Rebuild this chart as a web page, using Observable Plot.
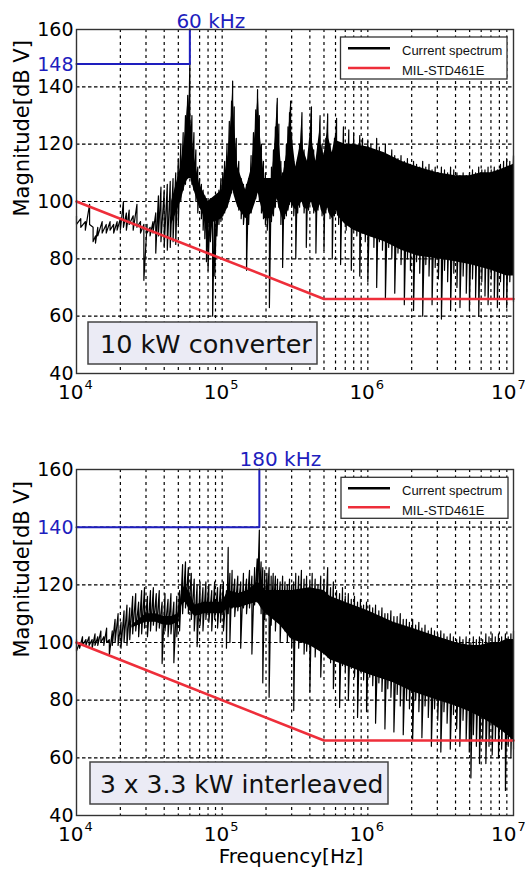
<!DOCTYPE html>
<html><head><meta charset="utf-8">
<script src="https://cdn.jsdelivr.net/npm/d3@7"></script>
<script src="https://cdn.jsdelivr.net/npm/@observablehq/plot@0.6"></script>
<style>
html,body{margin:0;padding:0;background:#fff}
body{width:525px;height:872px;position:relative;overflow:hidden;font-family:"DejaVu Sans",sans-serif}
.panel{position:absolute;left:0}
#deco{position:absolute;left:0;top:0;pointer-events:none}
</style></head><body>
<div id="p1" class="panel" style="top:0px"></div>
<div id="p2" class="panel" style="top:440px"></div>
<svg id="deco" width="525" height="872"></svg>
<script>
// ---------- data (frequencies in kHz, magnitudes in dB) ----------
const xTicks = [1e4, 1e5, 1e6];
const xTickLast = [1e7];
const xExp = ["4", "5", "6"];
const xExpLast = ["7"];
const yTicks1 = [40, 60, 80, 100, 120, 140, 160];
const yTicks2 = [40, 60, 80, 100, 120, 160];
const seriesNames = ["Current spectrum", "MIL-STD461E"];
const panelLabels = ["10 kW converter", "3 x 3.3 kW interleaved"];

// MIL-STD limit line
const limF = [10, 500, 10000];
const limV = [100, 66, 66];

// annotation (blue) lines
const blue1F = [10, 60, 60];
const blue1V = [148, 148, 160];
const blue2F = [10, 180, 180];
const blue2V = [140, 140, 160];
const blue1Label = [60];
const blue2Label = [180];
const blue1Tick = [148];
const blue2Tick = [140];

// Panel 1 spectrum: sample freq, local max, local min
const spec1F = [10,10.7,11.5,12.3,13,13.5,14,15,16,17,
 18,19,20,21,22,23,24.5,26,27.5,29,
 30.5,32,33.5,35,36.5,38,40,42,44,46,
 48,50,52,54,56,58,60,62,64,66,
 68,70,72,74,76,78,80,83,86,89,
 92,95,98,101,104,108,112,116,118,121,
 125,130,135,140,147,152,158,164,170,175,
 180,186,192,198,204,211,218,225,232,239,
 245,253,260,268,276,283,290,295,300,310,
 320,330,340,353,365,378,392,410,425,440,
 455,470,485,500,515,530,550,570,590,610,
 630,650,680,710,740,770,800,840,880,920,
 960,1000,1050,1100,1150,1200,1260,1320,1390,1460,
 1530,1610,1690,1780,1870,1960,2060,2160,2270,2380,
 2500,2630,2760,2900,3050,3200,3360,3530,3700,3890,
 4090,4290,4510,4740,4980,5230,5490,5770,6060,6370,
 6690,7030,7380,7750,8140,8550,8980,9430,10000];
const spec1Top = [95,94,93,99,91,88,91,93,92,93,
 92,93,94,100,96,97,95,99,93,92,
 92,91,93,96,102,105,104,106,107,108,
 110,115,120,124,130,137,148,130,124,118,
 112,108,106,104,102,101,100,101,98,100,
 102,104,108,110,114,120,128,135,142,133,
 122,114,108,106,106,108,116,124,132,139,
 130,120,114,110,108,106,112,118,126,136,
 127,114,110,114,120,126,131,135,124,114,
 108,114,120,131,118,110,118,133,118,110,
 120,130,120,112,122,130.6,120,113,122,129,
 118,112,126,120,125,118,124,119,123,122,
 118,121,120,117,122,119,117,120,116,118,
 116,115,116,114,115,113,114,113,112,114,
 112,113,111,112,110,112,111,110,112,111,
 110,109,110,109,110,111,110,112,111,111,
 112,111,112,111,113,114,115,114,116];
const spec1Bot = [92,91,90,92,86,85.5,88,89,89,90,
 89,90,90,91,90,92,90,91,89,72.5,
 89,88,89,82,88,86,84,83,84,86,
 85,92,100,104,106,108,110,106,104,100,
 96,98,94,90,87,79,76,86,60,74,
 88,92,93,95,96,98,101,103,105,103,
 100,97,94,92,76,92,96,99,101,104,
 100,96,94,92,90,63,93,95,98,102,
 98,92,77,94,95,97,99,100,98,95,
 80,96,98,100,96,84,97,100,96,82,
 97,99,95,83,96,98,94,80,95,97,
 92,78,94,90,92,76,90,88,74,89,
 86,72,88,84,70,86,83,66,84,80,
 68,82,78,64,80,76,62,79,75,60,
 78,74,64,77,73,59,76,72,62,75,
 70,63,74,68,62,73,66,60,72,67,
 64,73,66,63,72,66,63,72,65];
// Panel 1 dense band
const core1F = [45,52,56,58.5,61,64,70,80,100,110,
 116,118.5,121,128,145,160,170,177,182,195,
 220,232,239,245,260,280,290,295,300,320,
 345,353,362,385,405,410,418,440,465,470,
 478,500,525,530,540,570,605,610,620,700,
 800,1000,1300,1700,2200,3000,4000,5000,6000,7000,
 8000,9000,10000];
const core1Hi = [100,112,124,137,128,116,106,100,104,116,
 130,141,128,112,104,112,126,138,124,108,
 108,122,135,122,108,118,128,134,124,112,
 120,130,118,114,126,132,120,114,124,129,
 120,116,124,130,122,117,124,128,121,120,
 120,119,117,114,112,110,109,109,110,110,
 111,112,113];
const core1Lo = [92,100,106,108,108,104,98,92,94,98,
 102,104,102,98,94,96,100,103,100,94,
 94,98,101,98,94,96,98,100,99,97,
 99,100,98,97,99,100,98,96,98,99,
 97,95,97,98,96,94,96,97,95,92,
 90,88,86,83,81,80,79,78,77,76,
 75,74,74];

// Panel 2 spectrum
const spec2F = [10,10.5,11,11.6,12.2,12.8,13.4,14,14.7,15.4,
 16.1,16.8,17.6,18.4,19.3,20.2,21.2,22.2,23.2,24.3,
 25.5,26.7,28,29.3,30.7,32.2,33.7,35.3,37,38.7,
 40.5,42.5,44.5,46.6,48.8,51,53.5,56,58.6,61.4,
 64.3,67.3,70.5,73.8,77.3,81,84.8,88.8,93,97.4,
 102,107,110,113,117,122,128,134,140,147,
 154,160,167,174,180,185,190,196,203,210,
 217,224,232,240,250,260,270,280,290,300,
 310,320,335,350,365,380,400,415,435,455,
 475,500,530,555,580,610,640,670,700,735,
 770,810,850,890,935,980,1030,1080,1130,1190,
 1250,1310,1370,1440,1510,1590,1670,1750,1840,1930,
 2030,2130,2240,2350,2470,2600,2730,2870,3020,3170,
 3330,3500,3680,3870,4070,4280,4500,4730,4970,5100,
 5300,5560,5840,6140,6460,6790,7140,7500,7890,8290,
 8800,9200,9600,10000];
const spec2Top = [101,100,102,101,102,101,103,102,104,102,
 105,101,104,108,110,107,111,113,112,116,
 117,114,118,119,116,118,119,117,118,114,
 117,115,117,114,116,118,127,128,126,124,
 122,120,121,119,121,120,118,121,119,120,
 121,118,133,124,125,122,123,121,124,122,
 125,123,126,129,139,128,126,125,124,126,
 123,124,123,122,121,123,121,120,122,120,
 121,124,123,125,122,123,121,124,122,120,
 123,122,126,119,121,118,117,119,116,117,
 115,116,114,115,113,114,113,112,113,111,
 112,110,110,111,109,109,110,108,108,107,
 108,106,107,105,106,104,105,104,103,104,
 103,102,103,102,101,102,101,102,101,100,
 102,101,102,101,103,102,103,102,103,102,
 103,102,103,104];
const spec2Bot = [97,98,99,99,99,98,99,99,100,99,
 100,95.5,99,100,99,98,100,99,101,103,
 104,102,103,105,102,104,106,104,105,92.7,
 104,102,103,93,102,104,110,112,110,108,
 104,98.6,106,104,108,107,104,108,105,107,
 104,98,110,100,112,109,111,98,112,110,
 112,96,113,114,115,110,86,108,112,81,
 106,110,104,108,100,106,104,100,102,98,
 76.4,101,98,100,96,97,83,99,95,98,
 88,96,95,93,84,96,77.5,92,90,80,
 91,88,74,90,87,76,88,85,72,86,
 83,70,84,81,69,82,78,68,80,77,
 66,80,76,67,78,74,64,77,73,62,
 76,72,63,75,70,64,73,66,62,53,
 68,64,58,66,58,64,61,66,60,63,
 48.7,64,60,63];
const core2F = [24,30,35,40,45,50,53,56,
 60,65,75,90,100,110,130,150,175,185,
 200,250,300,400,500,550,700,1000,1500,2000,
 3000,4000,5000,6000,7000,8000,9000,10000];
const core2Hi = [106,110,110,109,109,110,118,120,
 117,113,114,114,114,118,117,118,121,120,
 118,118,118,119,118,116,114,111,107,105,
 102,100,99,99,100,100,101,101];
const core2Lo = [105,107,107,106,106,107,113,114,
 111,109,110,110,110,112,112,113,114,112,
 110,106,101,99,96,94,92,89,86,83,
 80,78,76,74,72,70,68,66];

// ---------- styling ----------
const RED = "#ee2e3a";
const BLUE = "#1e1ebe";
const FONT = "DejaVu Sans";

const gridXs = [];
for (const d of [1e4, 1e5, 1e6]) for (let m = 1; m < 10; m++) if (d * m > 1e4) gridXs.push(d * m);
const gridYs = [60, 80, 100, 120, 140];

function makePanel(o) {
  const zig = [];
  o.f.forEach((f, i) => { zig.push({f: f * 1000, v: o.top[i]}); zig.push({f: f * 1000, v: o.bot[i]}); });
  const core = o.cf.map((f, i) => ({f: f * 1000, hi: o.chi[i], lo: o.clo[i]}));
  const lim = limF.map((f, i) => ({f: f * 1000, v: limV[i]}));
  const bl = o.bf.map((f, i) => ({f: f * 1000, v: o.bv[i]}));
  const marks = [
    Plot.gridX(gridXs, {stroke: "#000", strokeOpacity: 1, strokeWidth: 1.2, strokeDasharray: "3,3.5"}),
    Plot.gridY(gridYs, {stroke: "#000", strokeOpacity: 1, strokeWidth: 1.2, strokeDasharray: "3.5,2.5"}),
    Plot.areaY(core, {x: "f", y1: "lo", y2: "hi", fill: "#000"}),
    Plot.line(zig, {x: "f", y: "v", stroke: "#000", strokeWidth: 1.2}),
    Plot.line(lim, {x: "f", y: "v", stroke: RED, strokeWidth: 2.6}),
    Plot.line(bl, {x: "f", y: "v", stroke: BLUE, strokeWidth: 2}),
    Plot.frame({stroke: "#333", strokeWidth: 1.4}),
    Plot.axisY(o.yt, {tickSize: 0, tickPadding: 3, fontSize: 19, dy: 0, label: null}),
    Plot.text(xTicks, {x: d => d, text: () => "10", frameAnchor: "bottom", lineAnchor: "bottom", dy: 25, dx: 7, textAnchor: "end", fontSize: 20}),
    Plot.text(xTicks, {x: d => d, text: (d, i) => xExp[i], frameAnchor: "bottom", lineAnchor: "bottom", dy: 15, dx: 8, textAnchor: "start", fontSize: 13}),
    Plot.text(xTickLast, {x: d => d, text: () => "10", frameAnchor: "bottom", lineAnchor: "bottom", dy: 25, dx: 3, textAnchor: "end", fontSize: 20}),
    Plot.text(xTickLast, {x: d => d, text: (d, i) => xExpLast[i], frameAnchor: "bottom", lineAnchor: "bottom", dy: 15, dx: 4, textAnchor: "start", fontSize: 13}),
    Plot.text(["Magnitude[dB V]"], {frameAnchor: "left", rotate: -90, dx: -54, dy: 15, fontSize: 21, lineAnchor: "middle"}),
    Plot.text(o.btick, {frameAnchor: "left", y: d => d, text: d => String(d), textAnchor: "end", dx: -3, dy: 1, fill: BLUE, fontSize: 19}),
    Plot.text(o.blabel, {x: d => d * 1000, text: d => d + " kHz", frameAnchor: "top", lineAnchor: "bottom", dy: o.labelDy, dx: 21, fill: BLUE, fontSize: 20})
  ];
  if (o.xlabel) marks.push(Plot.text([o.xlabel], {frameAnchor: "bottom", lineAnchor: "bottom", dy: 47, dx: -4, fontSize: 20}));
  return Plot.plot({
    width: 525, height: o.height,
    marginTop: 29, marginLeft: 76, marginRight: 12, marginBottom: o.mb,
    x: {type: "log", domain: [1e4, 1e7], axis: null},
    y: {domain: [40, 160]},
    style: {fontFamily: FONT, fontSize: "19px", color: "#000", background: "transparent", overflow: "visible"},
    marks
  });
}

document.getElementById("p1").append(makePanel({
  f: spec1F, top: spec1Top, bot: spec1Bot, cf: core1F, chi: core1Hi, clo: core1Lo,
  bf: blue1F, bv: blue1V, yt: yTicks1, btick: blue1Tick, blabel: blue1Label, labelDy: -2,
  height: 420, mb: 47
}));
document.getElementById("p2").append(makePanel({
  f: spec2F, top: spec2Top, bot: spec2Bot, cf: core2F, chi: core2Hi, clo: core2Lo,
  bf: blue2F, bv: blue2V, yt: yTicks2, btick: blue2Tick, blabel: blue2Label, labelDy: -4,
  height: 432, mb: 57, xlabel: "Frequency[Hz]"
}));

// ---------- legends and panel captions ----------
const deco = d3.select("#deco");
const legends = [{x: 340.5, y: 37, w: 166.5, h: 42, l1: 48.3, l2: 68, t1: 54.5, t2: 74.5},
                 {x: 341, y: 477.3, w: 167, h: 41, l1: 488.3, l2: 507.3, t1: 494.5, t2: 514.5}];
legends.forEach(L => {
  const g = deco.append("g");
  g.append("rect").attr("x", L.x).attr("y", L.y).attr("width", L.w).attr("height", L.h)
    .attr("fill", "#fff").attr("stroke", "#333").attr("stroke-width", 1.3);
  [[L.l1, "#000", L.t1, seriesNames[0]], [L.l2, RED, L.t2, seriesNames[1]]].forEach(([ly, c, ty, name]) => {
    g.append("line").attr("x1", 348).attr("x2", 390).attr("y1", ly).attr("y2", ly)
      .attr("stroke", c).attr("stroke-width", 2.4);
    g.append("text").attr("x", 402).attr("y", ty).text(name)
      .attr("font-family", "Liberation Sans, Arial, sans-serif").attr("font-size", 13).attr("fill", "#111");
  });
});
const boxes = [{x: 88, y: 322, w: 229, h: 42, tx: 100, ty: 353, fs: 25.5, text: panelLabels[0]},
               {x: 90, y: 762, w: 298, h: 42, tx: 100, ty: 793, fs: 25, text: panelLabels[1]}];
boxes.forEach(B => {
  deco.append("rect").attr("x", B.x).attr("y", B.y).attr("width", B.w).attr("height", B.h)
    .attr("fill", "#ebebf5").attr("stroke", "#444").attr("stroke-width", 1.5);
  deco.append("text").attr("x", B.tx).attr("y", B.ty).text(B.text)
    .attr("font-family", FONT).attr("font-size", B.fs).attr("fill", "#111");
});
</script>
</body></html>
